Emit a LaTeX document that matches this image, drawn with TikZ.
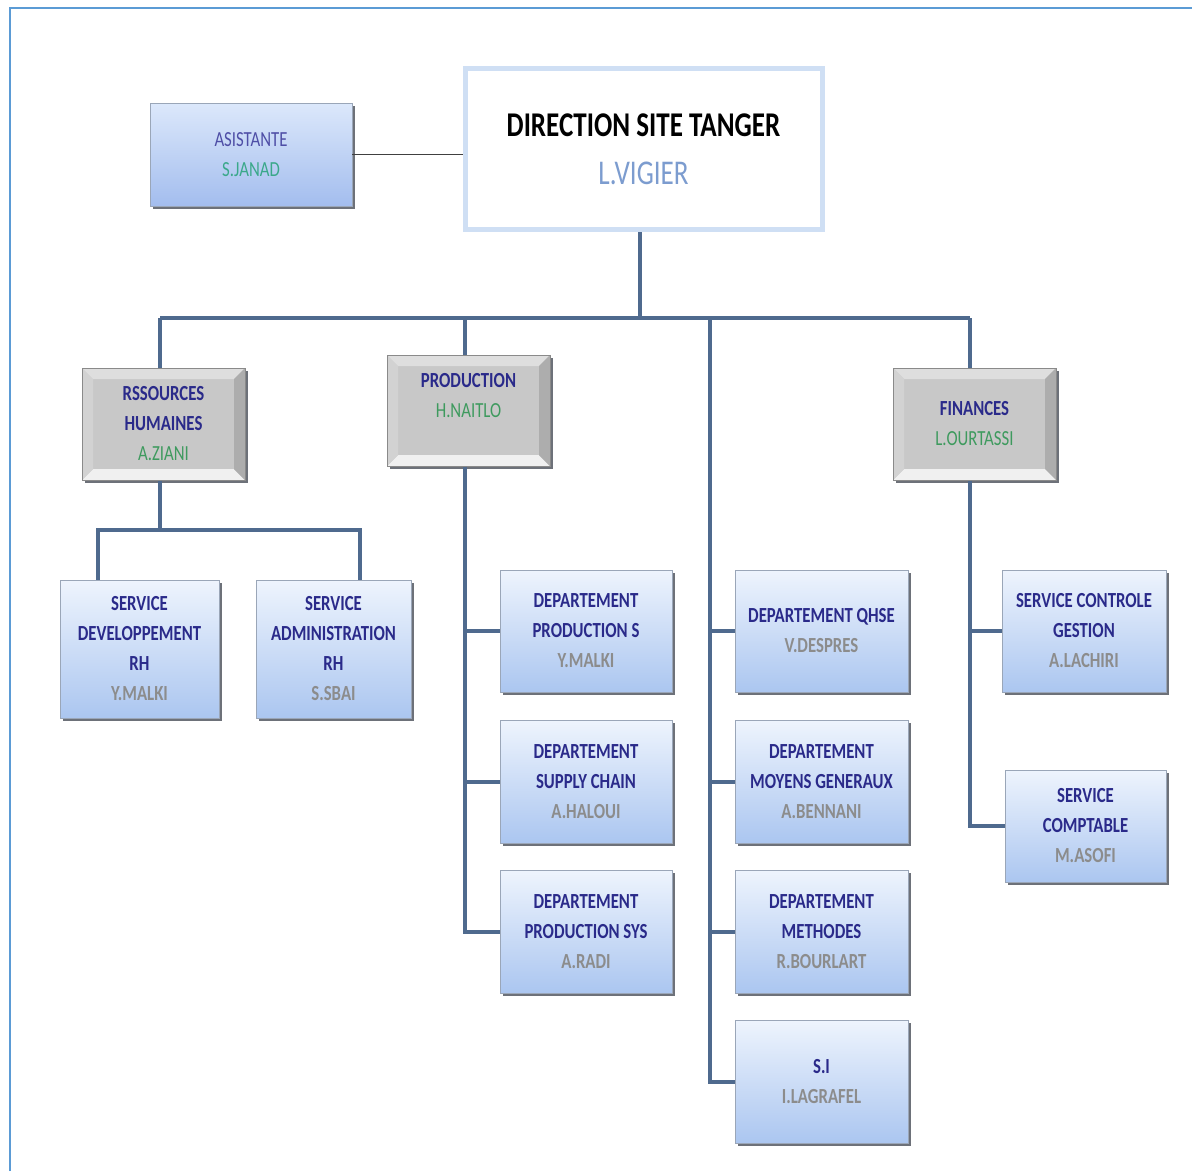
\documentclass[tikz,border=0pt]{standalone}
\usepackage{fontspec}
\newfontfamily\carl[FakeStretch=0.78]{Carlito}
\usetikzlibrary{calc,shadows}
\definecolor{frame}{HTML}{5B9BD5}
\definecolor{ttl}{HTML}{2A2A8A}
\definecolor{asst}{HTML}{4E4EA6}
\definecolor{grn}{HTML}{3E9A5E}
\definecolor{teal}{HTML}{3AA88A}
\definecolor{gname}{HTML}{8C8C8C}
\definecolor{vig}{HTML}{7C9CCF}
\definecolor{bxtop}{HTML}{EEF4FD}
\definecolor{bxbot}{HTML}{ABC6F0}
\definecolor{astop}{HTML}{DCE8FB}
\definecolor{asbot}{HTML}{A3BDEE}
\definecolor{bxedge}{HTML}{9AA6B8}
\definecolor{shad}{HTML}{5E626B}
\definecolor{gmid}{HTML}{C8C8C8}
\definecolor{gtop}{HTML}{DEDEDE}
\definecolor{gleft}{HTML}{D2D2D2}
\definecolor{gright}{HTML}{ADADAD}
\definecolor{gbot}{HTML}{F0F0F0}
\definecolor{gedge}{HTML}{8A8A8A}
\definecolor{conn}{HTML}{4F6A8E}
\definecolor{dirb}{HTML}{CFDFF4}
\begin{document}
\begin{tikzpicture}[x=1pt,y=-1pt,
  box/.style={rectangle, inner sep=0pt, align=center,
    font=\carl\fontsize{21.5}{30}\selectfont},
  shd/.style={drop shadow={shadow xshift=3pt, shadow yshift=-3pt, fill=shad, opacity=0.9}},
  bluebox/.style={box, top color=bxtop, bottom color=bxbot, draw=bxedge, line width=0.6pt, shd},
  asbox/.style={box, top color=astop, bottom color=asbot, draw=bxedge, line width=0.6pt, shd},
  greybox/.style={box, fill=gmid, draw=gedge, line width=1pt, shd,
    path picture={
      \fill[gtop] (path picture bounding box.north west) -- (path picture bounding box.north east)
        -- ([shift={(-11pt,-11pt)}]path picture bounding box.north east)
        -- ([shift={(11pt,-11pt)}]path picture bounding box.north west) -- cycle;
      \fill[gbot] (path picture bounding box.south west) -- (path picture bounding box.south east)
        -- ([shift={(-11pt,11pt)}]path picture bounding box.south east)
        -- ([shift={(11pt,11pt)}]path picture bounding box.south west) -- cycle;
      \fill[gleft] (path picture bounding box.north west) -- (path picture bounding box.south west)
        -- ([shift={(11pt,11pt)}]path picture bounding box.south west)
        -- ([shift={(11pt,-11pt)}]path picture bounding box.north west) -- cycle;
      \fill[gright] (path picture bounding box.north east) -- (path picture bounding box.south east)
        -- ([shift={(-11pt,11pt)}]path picture bounding box.south east)
        -- ([shift={(-11pt,-11pt)}]path picture bounding box.north east) -- cycle;
    }},
  dirbox/.style={rectangle, inner sep=0pt, align=center, fill=white, draw=dirb, line width=5pt,
    font=\carl\fontsize{34.7}{48}\selectfont},
  connector/.style={draw=conn, line width=4pt},
  thinline/.style={draw=black!75, line width=1.5pt},
]
\useasboundingbox (0,0) rectangle (1192,1171);
\fill[white] (0,0) rectangle (1192,1171);
% frame
\draw[frame, line width=2.5pt] (10,1171) -- (10,8) -- (1192,8);

% top
\node[dirbox, minimum width=357pt, minimum height=161pt] (dir) at (643.5,149)
  {\bfseries DIRECTION SITE TANGER\\\color{vig}L.VIGIER};
\node[asbox, minimum width=202pt, minimum height=103pt] (asist) at (251,154.5)
  {\color{asst}ASISTANTE\\\color{teal}S.JANAD};

% level 1
\node[greybox, minimum width=163pt, minimum height=112pt] (rh) at (163.5,424)
  {\bfseries\color{ttl}RSSOURCES\\\bfseries\color{ttl}HUMAINES\\\color{grn}A.ZIANI};
\node[greybox, minimum width=163pt, minimum height=111pt] (prod) at (468.5,410.5)
  {\bfseries\color{ttl}PRODUCTION\\\color{grn}H.NAITLO\\\mbox{}};
\node[greybox, minimum width=163pt, minimum height=112pt] (fin) at (974.5,424)
  {\bfseries\color{ttl}FINANCES\\\color{grn}L.OURTASSI};

% RH services
\node[bluebox, minimum width=159pt, minimum height=138pt] (sdev) at (139.5,649)
  {\bfseries\color{ttl}SERVICE\\\bfseries\color{ttl}DEVELOPPEMENT\\\bfseries\color{ttl}RH\\\bfseries\color{gname}Y.MALKI};
\node[bluebox, minimum width=155pt, minimum height=138pt] (sadm) at (333.5,649)
  {\bfseries\color{ttl}SERVICE\\\bfseries\color{ttl}ADMINISTRATION\\\bfseries\color{ttl}RH\\\bfseries\color{gname}S.SBAI};

% production departments
\node[bluebox, minimum width=172pt, minimum height=122pt] (d1) at (586,631)
  {\bfseries\color{ttl}DEPARTEMENT\\\bfseries\color{ttl}PRODUCTION S\\\bfseries\color{gname}Y.MALKI};
\node[bluebox, minimum width=172pt, minimum height=123pt] (d2) at (586,781.5)
  {\bfseries\color{ttl}DEPARTEMENT\\\bfseries\color{ttl}SUPPLY CHAIN\\\bfseries\color{gname}A.HALOUI};
\node[bluebox, minimum width=172pt, minimum height=123pt] (d3) at (586,931.5)
  {\bfseries\color{ttl}DEPARTEMENT\\\bfseries\color{ttl}PRODUCTION SYS\\\bfseries\color{gname}A.RADI};

% direct departments
\node[bluebox, minimum width=173pt, minimum height=122pt] (q1) at (821.5,631)
  {\bfseries\color{ttl}DEPARTEMENT QHSE\\\bfseries\color{gname}V.DESPRES};
\node[bluebox, minimum width=173pt, minimum height=123pt] (q2) at (821.5,781.5)
  {\bfseries\color{ttl}DEPARTEMENT\\\bfseries\color{ttl}MOYENS GENERAUX\\\bfseries\color{gname}A.BENNANI};
\node[bluebox, minimum width=173pt, minimum height=123pt] (q3) at (821.5,931.5)
  {\bfseries\color{ttl}DEPARTEMENT\\\bfseries\color{ttl}METHODES\\\bfseries\color{gname}R.BOURLART};
\node[bluebox, minimum width=173pt, minimum height=123pt] (q4) at (821.5,1081.5)
  {\bfseries\color{ttl}S.I\\\bfseries\color{gname}I.LAGRAFEL};

% finance services
\node[bluebox, minimum width=164pt, minimum height=122pt] (f1) at (1084,631)
  {\bfseries\color{ttl}SERVICE CONTROLE\\\bfseries\color{ttl}GESTION\\\bfseries\color{gname}A.LACHIRI};
\node[bluebox, minimum width=161pt, minimum height=112pt] (f2) at (1085.5,826)
  {\bfseries\color{ttl}SERVICE\\\bfseries\color{ttl}COMPTABLE\\\bfseries\color{gname}M.ASOFI};

% connectors
\coordinate (busL) at (160,318);
\coordinate (bP) at (465,318);
\coordinate (bQ) at (710,318);
\coordinate (busR) at (970,318);
\coordinate (bD) at (640,318);
\coordinate (rhL) at (98,530);
\coordinate (rhR) at (360,530);

\draw[thinline] (asist.east) -- (asist.east -| dir.west);
\draw[connector] (bD |- dir.south) -- (bD);
\draw[connector] (busL) -- (busR);
\draw[connector] (busL) -- (busL |- rh.north);
\draw[connector] (bP) -- (bP |- prod.north);
\draw[connector] (busR) -- (busR |- fin.north);

\draw[connector] (busL |- rh.south) -- (busL |- rhL);
\draw[connector] (rhL |- sdev.north) -- (rhL) -- (rhR) -- (rhR |- sadm.north);

\draw[connector] (bP |- prod.south) -- (bP |- d3.west) -- (d3.west);
\draw[connector] (bP |- d1.west) -- (d1.west);
\draw[connector] (bP |- d2.west) -- (d2.west);

\draw[connector] (bQ) -- (bQ |- q4.west) -- (q4.west);
\draw[connector] (bQ |- q1.west) -- (q1.west);
\draw[connector] (bQ |- q2.west) -- (q2.west);
\draw[connector] (bQ |- q3.west) -- (q3.west);

\draw[connector] (busR |- fin.south) -- (busR |- f2.west) -- (f2.west);
\draw[connector] (busR |- f1.west) -- (f1.west);
\end{tikzpicture}
\end{document}
